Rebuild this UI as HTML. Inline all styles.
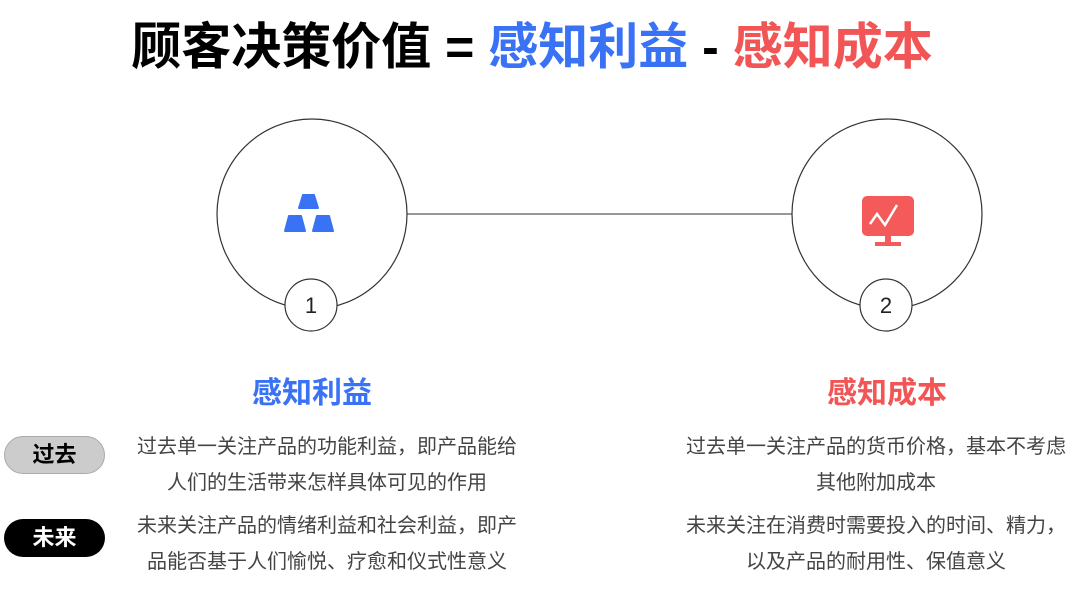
<!DOCTYPE html>
<html><head><meta charset="utf-8"><style>
body{margin:0;width:1080px;height:597px;background:#fff;position:relative;overflow:hidden;font-family:"Liberation Sans","Noto Sans CJK SC",sans-serif}
.a{position:absolute}
.t{position:absolute;white-space:nowrap;transform:translateX(-50%);text-align:center}
.body{font-size:20px;color:#444;line-height:36px}
</style></head><body>
<div class="t" style="left:532px;top:14px;font-size:50px;font-weight:bold;line-height:66px;color:#000">顾客决策价值 = <span style="color:#3a72f6">感知利益</span> - <span style="color:#f25555">感知成本</span></div>
<svg class="a" style="left:0;top:0" width="1080" height="597">
<line x1="407" y1="214" x2="792" y2="214" stroke="#777" stroke-width="1.5"/>
<circle cx="312" cy="214" r="95" fill="#fff" stroke="#333" stroke-width="1.2"/>
<circle cx="887" cy="214" r="95" fill="#fff" stroke="#333" stroke-width="1.2"/>
<circle cx="311" cy="305" r="26" fill="#fff" stroke="#333" stroke-width="1.2"/>
<circle cx="886" cy="305" r="26" fill="#fff" stroke="#333" stroke-width="1.2"/>
<text x="311" y="313" font-size="22" text-anchor="middle" fill="#222" font-family="Liberation Sans">1</text>
<text x="886" y="313" font-size="22" text-anchor="middle" fill="#222" font-family="Liberation Sans">2</text>
<g fill="#3a72f6" stroke="#3a72f6" stroke-width="2" stroke-linejoin="round">
<path d="M303 195h11l4 13h-19z"/>
<path d="M289 216h12l4 15h-20z"/>
<path d="M317 216h12l4 15h-20z"/>
</g>
<rect x="862" y="196" width="52" height="40" rx="5" fill="#f55a5a"/>
<rect x="885" y="235" width="6" height="8" fill="#f55a5a"/>
<rect x="875" y="242" width="26" height="4" fill="#f55a5a"/>
<polyline points="870,224 877,214 885,225 897,205" fill="none" stroke="#fff" stroke-width="2.5"/>
</svg>
<div class="t" style="left:312px;top:368px;font-size:30px;font-weight:bold;color:#3a72f6">感知利益</div>
<div class="t" style="left:887px;top:368px;font-size:30px;font-weight:bold;color:#f25555">感知成本</div>
<div class="a" style="left:4px;top:436px;width:101px;height:38px;border-radius:19px;background:#ccc;border:1px solid #aaa;box-sizing:border-box;text-align:center;line-height:36px;font-size:22px;font-weight:bold;color:#000">过去</div>
<div class="a" style="left:4px;top:519px;width:101px;height:38px;border-radius:19px;background:#000;text-align:center;line-height:38px;font-size:22px;font-weight:bold;color:#fff">未来</div>
<div class="t body" style="left:327px;top:429px">过去单一关注产品的功能利益，即产品能给<br>人们的生活带来怎样具体可见的作用</div>
<div class="t body" style="left:327px;top:508px">未来关注产品的情绪利益和社会利益，即产<br>品能否基于人们愉悦、疗愈和仪式性意义</div>
<div class="t body" style="left:876px;top:429px">过去单一关注产品的货币价格，基本不考虑<br>其他附加成本</div>
<div class="t body" style="left:876px;top:508px">未来关注在消费时需要投入的时间、精力，<br>以及产品的耐用性、保值意义</div>
</body></html>
